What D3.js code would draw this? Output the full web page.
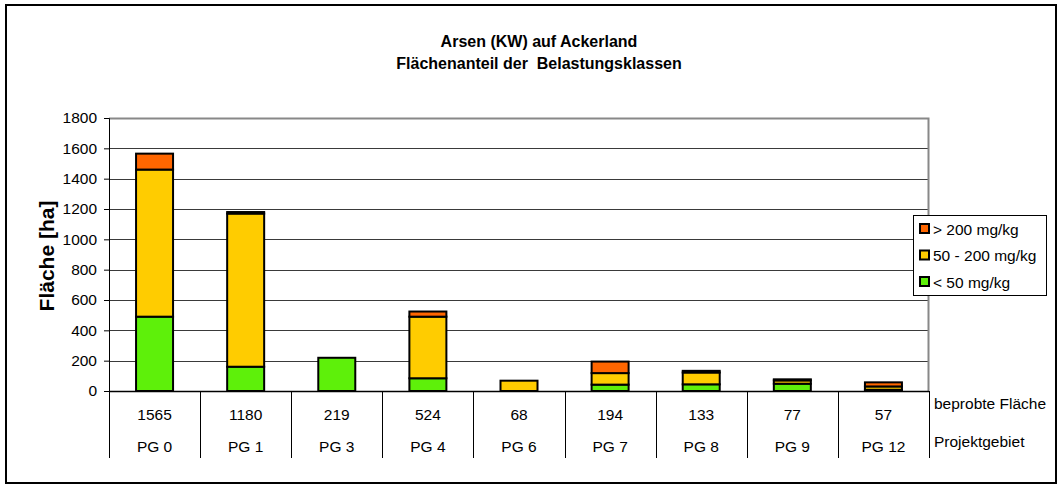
<!DOCTYPE html>
<html>
<head>
<meta charset="utf-8">
<script src="https://cdn.jsdelivr.net/npm/d3@7"></script>
<style>
  body { margin:0; background:#fff; }
  svg { display:block; font-family:"Liberation Sans", Arial, sans-serif; }
</style>
</head>
<body>
<div id="chart"></div>
<script>
// Projektgebiete and sampled area (ha)
const areas   = ["PG 0","PG 1","PG 3","PG 4","PG 6","PG 7","PG 8","PG 9","PG 12"];
const sampled = [1565, 1180, 219, 524, 68, 194, 133, 77, 57];
// area per contamination class (ha)
const lowClass  = [490, 160, 219, 84, 0, 42, 44, 48, 8];    // < 50 mg/kg
const midClass  = [970, 1010, 0, 406, 68, 76, 78, 22, 22];  // 50 - 200 mg/kg
const highClass = [105, 10, 0, 34, 0, 76, 11, 7, 27];       // > 200 mg/kg
const yTicks = [0,200,400,600,800,1000,1200,1400,1600,1800];

const classes = [
  {key:"low",  label:"< 50 mg/kg",     vals:lowClass,  col:"#5EF00A"},
  {key:"mid",  label:"50 - 200 mg/kg", vals:midClass,  col:"#FFCC00"},
  {key:"high", label:"> 200 mg/kg",    vals:highClass, col:"#FF6600"}
];

const W=1062, H=488;
const MG={t:118,r:133,b:97,l:109};
const iW=W-MG.l-MG.r, iH=H-MG.t-MG.b;
const FS=15.5;

const svg=d3.select("#chart").append("svg").attr("width",W).attr("height",H);

// outer frame
svg.append("rect").attr("x",6).attr("y",5).attr("width",1050).attr("height",478)
  .attr("fill","none").attr("stroke","#000").attr("stroke-width",2);

// title
svg.append("text").attr("x",539).attr("y",47).attr("text-anchor","middle")
  .attr("font-weight","bold").attr("font-size",16).text("Arsen (KW) auf Ackerland");
svg.append("text").attr("x",539).attr("y",69).attr("text-anchor","middle")
  .attr("font-weight","bold").attr("font-size",16).style("white-space","pre")
  .text("Flächenanteil der  Belastungsklassen");

const g=svg.append("g").attr("transform",`translate(${MG.l},${MG.t})`);

const xSc=d3.scaleBand().domain(areas).range([0,iW]).paddingInner(0).paddingOuter(0);
const ySc=d3.scaleLinear().domain([0,1800]).range([iH,0]);
const barW=37;

// grid
g.append("g").selectAll("line").data(yTicks.filter(v=>v>0&&v<1800)).join("line")
  .attr("x1",0).attr("x2",iW).attr("y1",d=>Math.round(ySc(d))+0.5).attr("y2",d=>Math.round(ySc(d))+0.5)
  .attr("stroke","#3a3a3a").attr("stroke-width",1);

// plot border top/right (grey)
g.append("path").attr("d",`M0,0.5H${iW-0.5}V${iH}`).attr("fill","none")
  .attr("stroke","#888").attr("stroke-width",2);

// stacked bars
const stack=areas.map((a,i)=>{
  let y0=0;
  return classes.map(c=>{ const s={area:a,c,y0,y1:y0+c.vals[i]}; y0+=c.vals[i]; return s; });
}).flat().filter(s=>s.y1>s.y0);

g.selectAll(".seg").data(stack).join("rect").attr("class","seg")
  .attr("x",d=>xSc(d.area)+(xSc.bandwidth()-barW)/2)
  .attr("width",barW)
  .attr("y",d=>ySc(d.y1))
  .attr("height",d=>ySc(d.y0)-ySc(d.y1))
  .attr("fill",d=>d.c.col)
  .attr("stroke","#000").attr("stroke-width",2);

// y axis
const yAx=g.append("g").call(d3.axisLeft(ySc).tickValues(yTicks).tickFormat(d3.format("d")).tickSize(5).tickPadding(7));
yAx.select(".domain").attr("stroke","#000");
yAx.selectAll("text").attr("font-size",FS).attr("fill","#000").attr("font-family","'Liberation Sans',Arial,sans-serif");
yAx.selectAll(".tick line").attr("stroke","#000");

// x axis line
g.append("line").attr("x1",0).attr("x2",iW).attr("y1",iH+0.5).attr("y2",iH+0.5)
  .attr("stroke","#000").attr("stroke-width",1.5);

// table under the axis
const bounds=areas.map(a=>xSc(a)).concat([iW]);
g.selectAll(".tab").data(bounds).join("line").attr("class","tab")
  .attr("x1",d=>Math.round(d)+0.5).attr("x2",d=>Math.round(d)+0.5)
  .attr("y1",iH).attr("y2",iH+67).attr("stroke","#000").attr("stroke-width",1);

g.selectAll(".num").data(areas).join("text").attr("class","num")
  .attr("x",d=>xSc(d)+xSc.bandwidth()/2).attr("y",iH+29)
  .attr("text-anchor","middle").attr("font-size",FS).text((d,i)=>sampled[i]);
g.selectAll(".lab").data(areas).join("text").attr("class","lab")
  .attr("x",d=>xSc(d)+xSc.bandwidth()/2).attr("y",iH+61)
  .attr("text-anchor","middle").attr("font-size",FS).text(d=>d);

g.append("text").attr("x",iW+5).attr("y",iH+18).attr("font-size",FS).text("beprobte Fläche");
g.append("text").attr("x",iW+5).attr("y",iH+56).attr("font-size",FS).text("Projektgebiet");

// y axis title
svg.append("text").attr("transform","translate(54,256) rotate(-90)")
  .attr("text-anchor","middle").attr("font-weight","bold").attr("font-size",21).text("Fläche [ha]");

// legend
const lg=svg.append("g").attr("transform","translate(913,215)");
lg.append("rect").attr("x",0.5).attr("y",0.5).attr("width",133).attr("height",80)
  .attr("fill","#fff").attr("stroke","#000").attr("stroke-width",1);
const legItems=classes.slice().reverse();
legItems.forEach((c,i)=>{
  const yy=14+i*26.5;
  lg.append("rect").attr("x",7).attr("y",yy-5).attr("width",9).attr("height",9)
    .attr("fill",c.col).attr("stroke","#000").attr("stroke-width",2);
  lg.append("text").attr("x",20).attr("y",yy+5.5).attr("font-size",FS).text(c.label);
});
</script>
</body>
</html>
